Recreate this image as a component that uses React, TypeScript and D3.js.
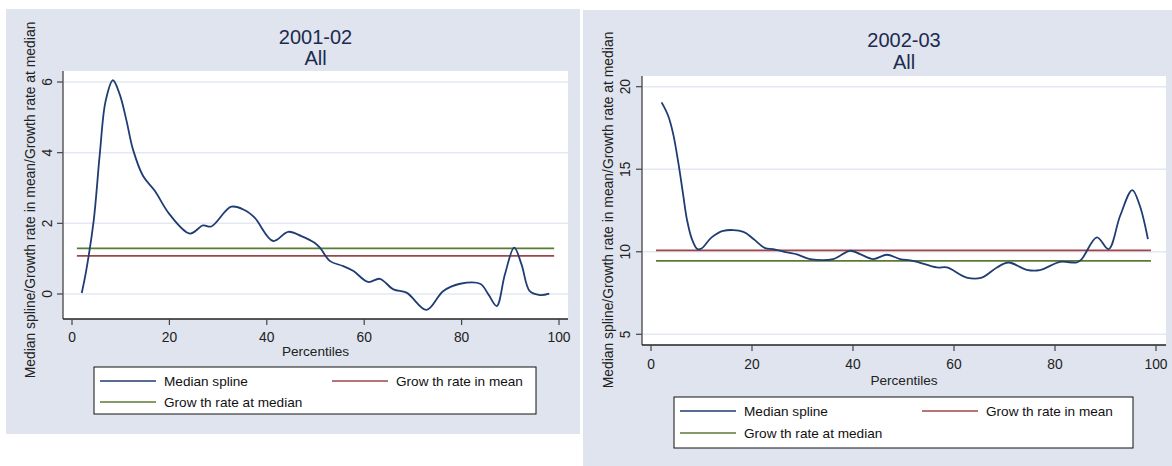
import { useRef, useEffect } from 'react'
import { select, scaleLinear, line, curveCatmullRom } from 'd3'

// percentiles and median-spline values
const pct0102 = [2, 2.9, 4.45, 5.7, 6.9, 8.4, 9.8, 11.2, 12.5, 14.6, 17, 20, 24.2, 26.9, 28.6, 32.7, 35.5, 37.5, 41.3, 44.4, 47.1, 49.8, 50.9, 53, 55.7, 57.8, 60.8, 63.2, 66, 68.7, 72.8, 76.2, 79.7, 83.8, 85.5, 87.2, 88.9, 90.8, 92.3, 94, 96.1, 98]
const spline0102 = [0.03, 0.65, 2.07, 3.95, 5.46, 6.05, 5.65, 4.9, 4.1, 3.34, 2.92, 2.26, 1.71, 1.94, 1.91, 2.47, 2.37, 2.16, 1.5, 1.76, 1.64, 1.45, 1.31, 0.93, 0.79, 0.65, 0.34, 0.43, 0.13, 0.04, -0.45, 0.08, 0.29, 0.29, -0.01, -0.34, 0.56, 1.31, 0.84, 0.08, -0.03, 0.01]
const mean0102 = 1.08
const median0102 = 1.29

const pct0203 = [2.1, 3.4, 4.4, 5.4, 6.3, 7.1, 8.1, 9.2, 10, 12, 14.3, 18.3, 20.3, 22.6, 24.2, 26.9, 28.9, 31.5, 36.1, 39.4, 41.4, 44, 46.7, 49.3, 51.9, 56.6, 58.6, 62.5, 65.5, 68.5, 70.8, 74.4, 77, 81, 84.3, 85.3, 88.3, 90.6, 92.9, 95.3, 96.8, 98.4]
const spline0203 = [19.05, 18.24, 17.13, 15.41, 13.6, 11.98, 10.77, 10.16, 10.2, 10.87, 11.27, 11.21, 10.77, 10.22, 10.16, 9.96, 9.84, 9.56, 9.56, 10.06, 9.86, 9.56, 9.82, 9.56, 9.45, 9.05, 9.05, 8.44, 8.44, 9.05, 9.35, 8.91, 8.89, 9.39, 9.35, 9.56, 10.87, 10.16, 12.18, 13.74, 12.79, 10.77]
const mean0203 = 10.08
const median0203 = 9.45

const xTicks = [0, 20, 40, 60, 80, 100]
const yTicks0102 = [0, 2, 4, 6]
const yTicks0203 = [5, 10, 15, 20]
const refSpan = [1, 99]

const legendLabels = ['Median spline', 'Grow th rate in mean', 'Grow th rate at median']
const yTitle = 'Median spline/Growth rate in mean/Growth rate at median'

const NAVY = '#1f3d73'
const MAROON = '#a0444a'
const GREEN = '#5b7a34'
const BG = '#dfe4ee'
const GRID = '#e3e8f2'
const FONT = '"Liberation Sans", Arial, sans-serif'

const panels = [
  {
    year: '2001-02', pct: pct0102, spline: spline0102, mean: mean0102, median: median0102, yTicks: yTicks0102,
    bg: { x: 6, y: 9, w: 574, h: 425 },
    plot: { l: 63, r: 568, t: 71, b: 319 },
    x: { d: [0, 100], r: [72, 559] }, y: { d: [0, 6], r: [294, 82] },
    titleY: [44, 65], yTickX: 47, yTitleX: 30, yTitleY: 200, xTickY: 342, xTitleY: 356,
    legend: { l: 94, t: 367, r: 536, b: 414, rows: [381, 402], col1: 100, col2: 332 },
  },
  {
    year: '2002-03', pct: pct0203, spline: spline0203, mean: mean0203, median: median0203, yTicks: yTicks0203,
    bg: { x: 583, y: 10, w: 589, h: 456 },
    plot: { l: 642, r: 1166, t: 76, b: 345 },
    x: { d: [0, 100], r: [651, 1156] }, y: { d: [5, 20], r: [334.3, 86.7] },
    titleY: [47, 69], yTickX: 625, yTitleX: 608, yTitleY: 210, xTickY: 369, xTitleY: 385,
    legend: { l: 674, t: 397, r: 1133, b: 448, rows: [411, 433], col1: 680, col2: 922 },
  },
]

const App = () => {
  const svgRef = useRef(null)

  useEffect(() => {
    const svg = select(svgRef.current)
    svg.selectAll('*').remove()

    panels.forEach((p) => {
      const g = svg.append('g').style('font-family', FONT)
      const xScale = scaleLinear().domain(p.x.d).range(p.x.r)
      const yScale = scaleLinear().domain(p.y.d).range(p.y.r)

      g.append('rect')
        .attr('x', p.bg.x).attr('y', p.bg.y)
        .attr('width', p.bg.w).attr('height', p.bg.h)
        .attr('fill', BG)

      g.append('rect')
        .attr('x', p.plot.l).attr('y', p.plot.t)
        .attr('width', p.plot.r - p.plot.l).attr('height', p.plot.b - p.plot.t)
        .attr('fill', 'white')

      // title
      const cx = (p.plot.l + p.plot.r) / 2
      ;[p.year, 'All'].forEach((t, i) => {
        g.append('text')
          .attr('x', cx).attr('y', p.titleY[i])
          .attr('text-anchor', 'middle')
          .attr('font-size', 20)
          .attr('fill', '#1c2b4f')
          .text(t)
      })

      // gridlines
      g.selectAll('.grid')
        .data(p.yTicks)
        .join('line')
        .attr('x1', p.plot.l + 1).attr('x2', p.plot.r)
        .attr('y1', (d) => yScale(d)).attr('y2', (d) => yScale(d))
        .attr('stroke', GRID).attr('stroke-width', 1.5)

      // y axis
      g.append('line')
        .attr('x1', p.plot.l).attr('x2', p.plot.l)
        .attr('y1', p.plot.t).attr('y2', p.plot.b)
        .attr('stroke', '#444').attr('stroke-width', 1.3)
      p.yTicks.forEach((d) => {
        const y = yScale(d)
        g.append('line')
          .attr('x1', p.plot.l - 6).attr('x2', p.plot.l)
          .attr('y1', y).attr('y2', y)
          .attr('stroke', '#444').attr('stroke-width', 1.2)
        g.append('text')
          .attr('transform', `translate(${p.yTickX},${y}) rotate(-90)`)
          .attr('text-anchor', 'middle')
          .attr('dy', '0.35em')
          .attr('font-size', 13.8)
          .attr('fill', '#222')
          .text(d)
      })

      // x axis
      g.append('line')
        .attr('x1', p.plot.l).attr('x2', p.plot.r)
        .attr('y1', p.plot.b).attr('y2', p.plot.b)
        .attr('stroke', '#222').attr('stroke-width', 1.3)
      xTicks.forEach((d) => {
        const x = xScale(d)
        g.append('line')
          .attr('x1', x).attr('x2', x)
          .attr('y1', p.plot.b).attr('y2', p.plot.b + 6)
          .attr('stroke', '#444').attr('stroke-width', 1.2)
        g.append('text')
          .attr('x', x).attr('y', p.xTickY)
          .attr('text-anchor', 'middle')
          .attr('font-size', 13.8)
          .attr('fill', '#222')
          .text(d)
      })

      g.append('text')
        .attr('x', cx).attr('y', p.xTitleY)
        .attr('text-anchor', 'middle')
        .attr('font-size', 13.6)
        .attr('fill', '#222')
        .text('Percentiles')

      g.append('text')
        .attr('transform', `translate(${p.yTitleX},${p.yTitleY}) rotate(-90)`)
        .attr('text-anchor', 'middle')
        .attr('dy', '0.35em')
        .attr('font-size', 13.9)
        .attr('fill', '#222')
        .text(yTitle)

      // reference lines
      ;[
        [p.median, GREEN],
        [p.mean, MAROON],
      ].forEach(([v, c]) => {
        g.append('line')
          .attr('x1', xScale(refSpan[0])).attr('x2', xScale(refSpan[1]))
          .attr('y1', yScale(v)).attr('y2', yScale(v))
          .attr('stroke', c).attr('stroke-width', 1.8)
      })

      // spline
      const pts = p.pct.map((d, i) => [d, p.spline[i]])
      const lineGenerator = line()
        .x((d) => xScale(d[0]))
        .y((d) => yScale(d[1]))
        .curve(curveCatmullRom.alpha(0.5))
      g.append('path')
        .attr('d', lineGenerator(pts))
        .attr('fill', 'none')
        .attr('stroke', NAVY)
        .attr('stroke-width', 1.8)
        .style('stroke-linejoin', 'round')

      // legend
      const L = p.legend
      g.append('rect')
        .attr('x', L.l).attr('y', L.t)
        .attr('width', L.r - L.l).attr('height', L.b - L.t)
        .attr('fill', 'white').attr('stroke', '#111').attr('stroke-width', 1)
      const items = [
        { label: legendLabels[0], color: NAVY, x: L.col1, y: L.rows[0] },
        { label: legendLabels[1], color: MAROON, x: L.col2, y: L.rows[0] },
        { label: legendLabels[2], color: GREEN, x: L.col1, y: L.rows[1] },
      ]
      items.forEach((it) => {
        g.append('line')
          .attr('x1', it.x).attr('x2', it.x + 56)
          .attr('y1', it.y).attr('y2', it.y)
          .attr('stroke', it.color).attr('stroke-width', 1.6)
        g.append('text')
          .attr('x', it.x + 64).attr('y', it.y)
          .attr('dy', '0.35em')
          .attr('font-size', 13.6)
          .attr('fill', '#111')
          .text(it.label)
      })
    })
  }, [])

  return (
    <svg
      ref={svgRef}
      width={1172}
      height={466}
      style={{ position: 'absolute', left: 0, top: 0, background: 'white' }}
    ></svg>
  )
}

export default App
